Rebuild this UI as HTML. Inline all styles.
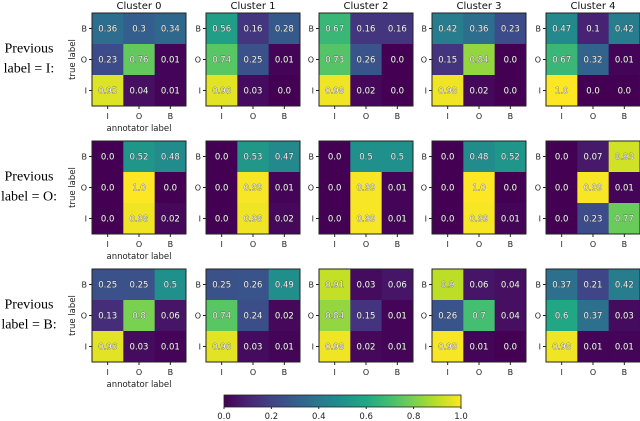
<!DOCTYPE html>
<html><head><meta charset="utf-8"><style>
body{margin:0;background:#fff}
svg{display:block;font-family:"DejaVu Sans","Liberation Sans",sans-serif}
</style></head><body>
<svg id="chart" width="640" height="421" viewBox="0 0 640 421">
<defs><linearGradient id="vir" x1="0" x2="1" y1="0" y2="0"></linearGradient></defs>
</svg>
<script>
const clusters = ["Cluster 0","Cluster 1","Cluster 2","Cluster 3","Cluster 4"];
const rowTitles = [["Previous","label = I:"],["Previous","label = O:"],["Previous","label = B:"]];
const labels = ["I","O","B"];
const prevI = [
 [[0.36,0.3,0.34],[0.23,0.76,0.01],[0.95,0.04,0.01]],
 [[0.56,0.16,0.28],[0.74,0.25,0.01],[0.96,0.03,0.0]],
 [[0.67,0.16,0.16],[0.73,0.26,0.0],[0.98,0.02,0.0]],
 [[0.42,0.36,0.23],[0.15,0.84,0.0],[0.98,0.02,0.0]],
 [[0.47,0.1,0.42],[0.67,0.32,0.01],[1.0,0.0,0.0]]
];
const prevO = [
 [[0.0,0.52,0.48],[0.0,1.0,0.0],[0.0,0.98,0.02]],
 [[0.0,0.53,0.47],[0.0,0.99,0.01],[0.0,0.98,0.02]],
 [[0.0,0.5,0.5],[0.0,0.99,0.01],[0.0,0.99,0.01]],
 [[0.0,0.48,0.52],[0.0,1.0,0.0],[0.0,0.99,0.01]],
 [[0.0,0.07,0.93],[0.0,0.99,0.01],[0.0,0.23,0.77]]
];
const prevB = [
 [[0.25,0.25,0.5],[0.13,0.8,0.06],[0.96,0.03,0.01]],
 [[0.25,0.26,0.49],[0.74,0.24,0.02],[0.96,0.03,0.01]],
 [[0.91,0.03,0.06],[0.84,0.15,0.01],[0.98,0.02,0.01]],
 [[0.9,0.06,0.04],[0.26,0.7,0.04],[0.99,0.01,0.0]],
 [[0.37,0.21,0.42],[0.6,0.37,0.03],[0.98,0.01,0.01]]
];
const cbTicks = [0.0,0.2,0.4,0.6,0.8,1.0];
const allRows = [prevI, prevO, prevB];

const VIR=[[68,1,84],[72,35,116],[64,67,135],[52,94,141],[41,120,142],[32,144,140],[34,167,132],[68,190,112],[121,209,81],[189,222,38],[253,231,37]];
function viridis(v){v=Math.max(0,Math.min(1,v));const p=v*10,i=Math.min(9,Math.floor(p)),f=p-i;const a=VIR[i],b=VIR[i+1];return `rgb(${a.map((c,k)=>Math.round(c+(b[k]-c)*f)).join(',')})`;}

const NS="http://www.w3.org/2000/svg", svg=document.getElementById('chart');
function el(t,a,p){const e=document.createElementNS(NS,t);for(const k in a)e.setAttribute(k,a[k]);(p||svg).appendChild(e);return e;}
const X0=[92,206,319,432,546], Y0=[13,141,269], W=94, H=93;
const xCell=(c,j)=>X0[c]+j*W/3, yCell=(r,i)=>Y0[r]+i*H/3;

allRows.forEach((rowData,r)=>{
  const rt=el('text',{x:29,y:Y0[r]+H/2-7,'text-anchor':'middle','font-size':14,'font-family':'Liberation Serif,serif',fill:'#000'});
  
  
  rowTitles[r].forEach((s,k)=>{const ts=el('tspan',{x:29,dy:k?20:0},rt);ts.textContent=s;});
  rowData.forEach((m,c)=>{
    const g=el('g',{});
    
    
    m.forEach((row,i)=>row.forEach((v,j)=>{
      const rc=el('rect',{x:xCell(c,j),y:yCell(r,i),width:W/3+0.5,height:H/3+0.5,fill:viridis(v)},g);
      
      
      const t=el('text',{x:xCell(c,j)+W/6,y:yCell(r,i)+H/6+3,'text-anchor':'middle','font-size':8.5,fill:'#f4f4f4',stroke:'#333','stroke-width':0.5,'paint-order':'stroke'},g);
      
      
      t.textContent=String(v).replace(/^(\d)$/,'$1.0');
    }));
    el('rect',{x:X0[c],y:Y0[r],width:W,height:H,fill:'none',stroke:'#222','stroke-width':1},g);
    labels.forEach((L,k)=>{
      const yy=yCell(r,2-k)+H/6;
      el('line',{x1:X0[c]-3,x2:X0[c],y1:yy,y2:yy,stroke:'#222'},g);
      const yt=el('text',{x:X0[c]-5,y:yy+3,'text-anchor':'end','font-size':8,fill:'#222'},g);
      
      
      yt.textContent=L;
      const xx=xCell(c,k)+W/6;
      el('line',{x1:xx,x2:xx,y1:Y0[r]+H,y2:Y0[r]+H+3,stroke:'#222'},g);
      const xt=el('text',{x:xx,y:Y0[r]+H+13,'text-anchor':'middle','font-size':8,fill:'#222'},g);
      
      
      xt.textContent=L;
    });
    if(r===0){const ct=el('text',{x:X0[c]+W/2,y:9,'text-anchor':'middle','font-size':10,fill:'#111'});
      
      
      ct.textContent=clusters[c];}
    if(c===0){
      const yl=el('text',{x:0,y:0,'text-anchor':'middle','font-size':8.5,fill:'#222',transform:`translate(75,${Y0[r]+H/2}) rotate(-90)`});
      
      
      yl.textContent='true label';
      const xl=el('text',{x:X0[0]+W/2,y:Y0[r]+H+25,'text-anchor':'middle','font-size':8.5,fill:'#222'});
      
      
      xl.textContent='annotator label';
    }
  });
});
const grad=document.getElementById('vir');
VIR.forEach((c,i)=>el('stop',{offset:(i*10)+'%','stop-color':`rgb(${c.join(',')})`},grad));
const CBX=224,CBW=237,CBY=395,CBH=12;
const cb=el('rect',{x:CBX,y:CBY,width:CBW,height:CBH,fill:'url(#vir)',stroke:'#222','stroke-width':0.8});


cbTicks.forEach(v=>{
  const x=CBX+v*CBW;
  el('line',{x1:x,x2:x,y1:CBY+CBH,y2:CBY+CBH+2,stroke:'#222'});
  const t=el('text',{x:x,y:419,'text-anchor':'middle','font-size':8.5,fill:'#222'});
  
  
  t.textContent=v.toFixed(1);
});
</script>
</body></html>
